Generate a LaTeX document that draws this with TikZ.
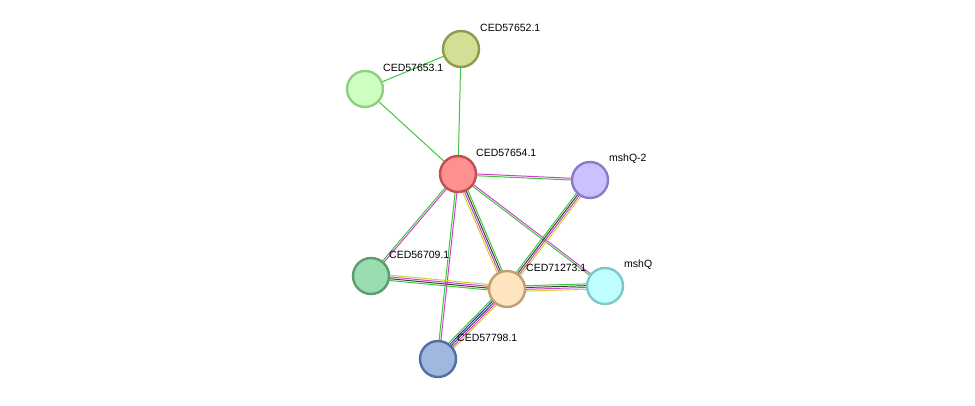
\documentclass[tikz,border=0pt]{standalone}
\usepackage{fontspec}
\setmainfont{Liberation Sans}
\usetikzlibrary{calc}
\pgfdeclarelayer{back}\pgfdeclarelayer{bg}\pgfsetlayers{back,bg,main}
\definecolor{eg}{HTML}{3CC83C}
\definecolor{em}{HTML}{D040D0}
\definecolor{ey}{HTML}{C8D428}
\definecolor{ek}{HTML}{404040}
\definecolor{eb}{HTML}{2828F0}
\newcommand\stredge[4]{%
  \foreach \c [count=\i] in {#4}{%
    \pgfmathsetmacro\o{(\i-(#3+1)/2)*1.8}%
    \draw[\c,line width=1pt] ($(#1)!\o pt!90:(#2)$) -- ($(#2)!\o pt!-90:(#1)$);
  }}
\begin{document}
\begin{tikzpicture}[x=1pt,y=-1pt,
  prot/.style={circle,minimum size=36pt,inner sep=0pt,line width=2.4pt},
  lab/.style={anchor=west,font=\fontsize{10.5}{12}\selectfont,inner sep=0pt}]
\useasboundingbox (0,0) rectangle (975,405);
\begin{pgfonlayer}{back}
\fill[white] (0,0) rectangle (975,405);
\end{pgfonlayer}
\node[prot,fill={rgb,255:red,212;green,223;blue,150},draw={rgb,255:red,143;green,154;blue,78}] (n52) at (461,49) {};
\node[prot,fill={rgb,255:red,204;green,255;blue,192},draw={rgb,255:red,143;green,207;blue,128}] (n53) at (365,89) {};
\node[prot,fill={rgb,255:red,255;green,144;blue,144},draw={rgb,255:red,192;green,80;blue,80}] (n54) at (458,174) {};
\node[prot,fill={rgb,255:red,204;green,192;blue,255},draw={rgb,255:red,138;green,122;blue,204}] (q2) at (590,180) {};
\node[prot,fill={rgb,255:red,153;green,221;blue,176},draw={rgb,255:red,90;green,158;blue,112}] (n09) at (371,276) {};
\node[prot,fill={rgb,255:red,255;green,228;blue,192},draw={rgb,255:red,192;green,160;blue,112}] (n73) at (507,289) {};
\node[prot,fill={rgb,255:red,192;green,255;blue,255},draw={rgb,255:red,128;green,200;blue,200}] (q) at (605,286) {};
\node[prot,fill={rgb,255:red,160;green,184;blue,224},draw={rgb,255:red,80;green,112;blue,160}] (n98) at (438,359) {};
\begin{pgfonlayer}{bg}
\stredge{n53}{n52}{1}{eg}
\stredge{n53}{n54}{1}{eg}
\stredge{n52}{n54}{1}{eg}
\stredge{n54}{q2}{2}{eg,em}
\stredge{n54}{q}{2}{eg,em}
\stredge{n54}{n09}{2}{eg,em}
\stredge{n54}{n98}{2}{eg,em}
\stredge{n54}{n73}{4}{ey,em,ek,eg}
\stredge{q2}{n73}{4}{eg,ek,em,ey}
\stredge{n09}{n73}{4}{eg,ek,em,ey}
\stredge{n73}{q}{4}{ey,em,ek,eg}
\stredge{n73}{n98}{5}{eg,eb,ek,em,ey}
\end{pgfonlayer}
\node[lab] (l52) at (480,28) {CED57652.1};
\node[lab] (l53) at (383,68) {CED57653.1};
\node[lab] (l54) at (476,153) {CED57654.1};
\node[lab] (lq2) at (609,159) {mshQ-2};
\node[lab] (l09) at (389,255) {CED56709.1};
\node[lab] (l73) at (526,268) {CED71273.1};
\node[lab] (lq) at (624,265) {mshQ};
\node[lab] (l98) at (457,338) {CED57798.1};
\end{tikzpicture}
\end{document}
